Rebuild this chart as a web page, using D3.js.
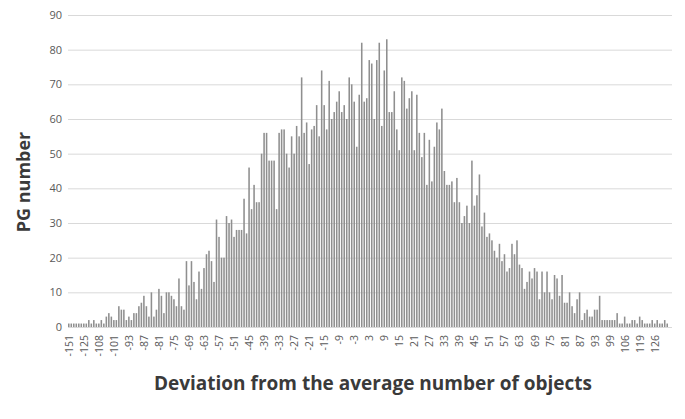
<!DOCTYPE html>
<html><head><meta charset="utf-8">
<script src="https://cdn.jsdelivr.net/npm/d3@7"></script>
<style>body{margin:0;background:#fff}svg{display:block}</style>
</head><body>
<svg id="c" width="685" height="419"></svg>
<script>
const categories = [-151,-143,-138,-134,-130,-127,-125,-122,-119,-116,-113,-110,-108,-107,-106,-105,-104,-103,-101,-100,-98,-97,-96,-94,-93,
-92,-91,-90,-89,-88,-87,-86,-85,-84,-83,-82,-81,-80,-79,-78,-77,-76,-75,-74,-73,-72,-71,-70,-69,-68,-67,-66,-65,-64,-63,-62,-61,-60,-59,-58,-57,-56,-55,-54,-53,-52,-51,-50,-49,-48,-47,-46,-45,-44,-43,-42,-41,-40,-39,-38,-37,-36,-35,-34,-33,-32,-31,-30,-29,-28,-27,-26,-25,-24,-23,-22,-21,-20,-19,-18,-17,-16,-15,-14,-13,-12,-11,-10,-9,-8,-7,-6,-5,-4,-3,-2,-1,
0,1,2,3,4,5,6,7,8,9,10,11,12,13,14,15,16,17,18,19,20,21,22,23,24,25,26,27,28,29,30,31,32,33,34,35,36,37,38,39,40,41,42,43,44,45,46,47,48,49,50,51,52,53,54,55,56,57,58,59,60,61,62,63,64,65,66,67,68,69,70,71,72,73,74,75,76,77,78,79,80,81,82,83,84,85,86,87,88,89,90,91,92,93,
94,95,96,97,98,99,100,101,102,103,105,106,108,110,112,114,117,119,120,121,122,123,125,126,127,128,129,130,132];

const counts = [
1,1,1,1,1,1,1,1,2,1,2,1,1,2,1,3,4,3,2,2,6,5,5,2,3,2,4,4,6,7,9,6,3,10,3,5,11,9,4,
10,10,9,8,6,14,6,5,19,12,19,13,8,16,11,17,21,22,19,13,31,26,20,20,32,30,31,26,28,28,28,37,27,46,34,41,36,36,50,56,
56,48,48,48,34,56,57,57,50,46,55,50,58,55,72,56,59,47,57,58,64,55,74,64,57,71,60,62,65,68,62,64,60,72,70,65,52,67,82,65,
66,77,76,60,77,82,58,74,83,62,62,68,57,51,72,71,63,66,68,51,67,56,49,56,41,54,42,52,59,57,63,45,41,41,42,36,43,36,30,32,
35,30,48,35,38,44,29,33,26,27,25,22,20,24,19,21,16,17,24,21,25,18,17,11,13,16,14,17,16,8,16,10,16,10,8,15,14,9,15,7,
7,10,6,4,8,10,2,4,5,3,3,5,5,9,2,2,2,2,2,2,4,1,1,3,1,1,2,2,1,3,2,1,1,1,2,1,2,1,1,2,1];

const tickLabels = [-151,-125,-108,-101,-93,-87,-81,-75,-69,-63,-57,-51,-45,-39,-33,-27,-21,-15,-9,-3,3,9,15,21,27,33,39,45,51,57,63,69,75,81,87,93,99,106,119,126];
const yTicks = [0,10,20,30,40,50,60,70,80,90];

const svg = d3.select("#c");
const data = categories.map((c,i)=>({c, v: counts[i]}));

const x = d3.scaleBand().domain(categories).range([68, 668]).paddingInner(0.38).paddingOuter(0);
const y = d3.scaleLinear().domain([0, 90]).range([327, 15]);

svg.append("g").selectAll("line").data(yTicks).join("line")
  .attr("x1", 68).attr("x2", 672)
  .attr("y1", d=>y(d)+0.5).attr("y2", d=>y(d)+0.5)
  .attr("stroke", "#d9d9d9").attr("stroke-width", 1);

svg.append("g").selectAll("rect").data(data).join("rect")
  .attr("x", d=>x(d.c)).attr("width", x.bandwidth())
  .attr("y", d=>y(d.v)).attr("height", d=>y(0)-y(d.v))
  .attr("fill", "#8f8f8f");

const yAxis = d3.axisLeft(y).tickValues(yTicks).tickSize(0).tickPadding(0);
const gy = svg.append("g").attr("transform", "translate(62,0)").call(yAxis);
gy.select(".domain").remove();
gy.selectAll("text").attr("font-family", "Open Sans, sans-serif").attr("font-size", 11).attr("fill", "#595959");

const xAxis = d3.axisBottom(x).tickValues(tickLabels).tickSize(0).tickPadding(0);
const gx = svg.append("g").attr("transform", "translate(0,335)").call(xAxis);
gx.select(".domain").remove();
gx.selectAll("text")
  .attr("font-family", "Open Sans, sans-serif").attr("font-size", 10.5).attr("fill", "#595959")
  .attr("text-anchor", "end").attr("dy", null).attr("y", 0).attr("x", 0)
  .attr("transform", "rotate(-90)").attr("dominant-baseline", "central");

svg.append("text").attr("x", 373).attr("y", 390).attr("text-anchor", "middle")
  .attr("font-family", "Open Sans, sans-serif").attr("font-weight", "bold").attr("font-size", 19)
  .attr("fill", "#3a3a3a").text("Deviation from the average number of objects");
svg.append("text").attr("transform", "translate(30,182) rotate(-90)").attr("text-anchor", "middle")
  .attr("font-family", "Open Sans, sans-serif").attr("font-weight", "bold").attr("font-size", 18)
  .attr("fill", "#3a3a3a").text("PG number");
</script>
</body></html>
